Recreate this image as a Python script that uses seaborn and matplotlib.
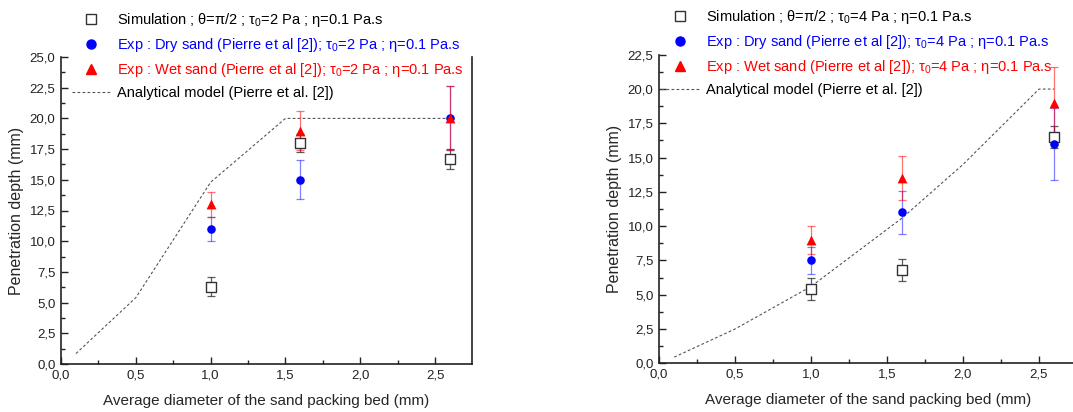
import numpy as np
import matplotlib
matplotlib.use("Agg")
import matplotlib.pyplot as plt
import seaborn as sns
from matplotlib.lines import Line2D
from matplotlib.ticker import FuncFormatter, MultipleLocator

# ---- data ----
x_exp = [1.0, 1.6, 2.6]

# left panel: tau0 = 2 Pa
sim_2 = [6.3, 18.0, 16.7]
sim_2_err = [0.8, 0.7, 0.8]
dry_2 = [11.0, 15.0, 20.0]
dry_2_err = [1.0, 1.6, 2.6]
wet_2 = [13.0, 19.0, 20.0]
wet_2_err = [1.0, 1.6, 2.6]
model_2_x = [0.1, 0.5, 1.0, 1.5, 2.6]
model_2_y = [0.85, 5.4, 14.8, 20.0, 20.0]

# right panel: tau0 = 4 Pa
sim_4 = [5.4, 6.8, 16.5]
sim_4_err = [0.8, 0.8, 0.8]
dry_4 = [7.5, 11.0, 16.0]
dry_4_err = [1.0, 1.6, 2.6]
wet_4 = [9.0, 13.5, 19.0]
wet_4_err = [1.0, 1.6, 2.6]
model_4_x = [0.1, 0.5, 1.0, 1.6, 2.0, 2.5, 2.6]
model_4_y = [0.45, 2.5, 5.6, 10.6, 14.5, 20.0, 20.0]

sns.set_style("ticks")
plt.rcParams["font.family"] = ["Liberation Sans", "DejaVu Sans"]
plt.rcParams["mathtext.fontset"] = "custom"
plt.rcParams["mathtext.rm"] = "Liberation Sans"
plt.rcParams["mathtext.it"] = "Liberation Sans"

W, H = 1073, 412
fig = plt.figure(figsize=(W / 100, H / 100), dpi=100)

SIM_C = "#333333"
DRY_C = "blue"
WET_C = "red"
LINE_C = "#555555"
comma = FuncFormatter(lambda v, p: f"{v:.1f}".replace(".", ","))


def panel(rect, ymax, xmax, sim, sim_err, dry, dry_err, wet, wet_err, mx, my):
    ax = fig.add_axes(rect)
    sns.lineplot(x=mx, y=my, ax=ax, color=LINE_C, lw=0.8,
                 linestyle=(0, (2.5, 2)), legend=False, sort=False)
    ax.errorbar(x_exp, sim, yerr=sim_err, fmt="none", ecolor=SIM_C,
                elinewidth=0.9, capsize=3, capthick=0.9, alpha=0.8)
    sns.scatterplot(x=x_exp, y=sim, ax=ax, marker="s", s=42,
                    facecolor="white", edgecolor=SIM_C, linewidth=1.0, zorder=3)
    ax.errorbar(x_exp, dry, yerr=dry_err, fmt="none", ecolor=DRY_C,
                elinewidth=0.9, capsize=3, capthick=0.9, alpha=0.5)
    sns.scatterplot(x=x_exp, y=dry, ax=ax, marker="o", s=38,
                    color=DRY_C, edgecolor=DRY_C, linewidth=0, zorder=4)
    ax.errorbar(x_exp, wet, yerr=wet_err, fmt="none", ecolor=WET_C,
                elinewidth=0.9, capsize=3, capthick=0.9, alpha=0.55)
    sns.scatterplot(x=x_exp, y=wet, ax=ax, marker="^", s=50,
                    color=WET_C, edgecolor=WET_C, linewidth=0, zorder=5)

    ax.set_xlim(0, xmax)
    ax.set_ylim(0, ymax)
    ax.xaxis.set_major_locator(MultipleLocator(0.5))
    ax.xaxis.set_minor_locator(MultipleLocator(0.25))
    ax.yaxis.set_major_locator(MultipleLocator(2.5))
    ax.yaxis.set_minor_locator(MultipleLocator(1.25))
    ax.xaxis.set_major_formatter(comma)
    ax.yaxis.set_major_formatter(comma)
    ax.tick_params(which="both", direction="in", labelsize=9.5, width=1,
                   colors="#222222", right=False, top=False)
    ax.tick_params(which="major", length=5, pad=4)
    ax.tick_params(which="minor", length=3)
    for s in ax.spines.values():
        s.set_linewidth(1.2)
        s.set_color("#222222")
    ax.spines["top"].set_visible(False)
    ax.set_xlabel("Average diameter of the sand packing bed (mm)", fontsize=11, labelpad=9)
    ax.set_ylabel("Penetration depth (mm)", fontsize=11.5, labelpad=4)
    return ax


ax1 = panel([61 / W, (H - 364) / H, 411 / W, 307 / H], 25, 2.747,
            sim_2, sim_2_err, dry_2, dry_2_err, wet_2, wet_2_err, model_2_x, model_2_y)
ax2 = panel([659 / W, (H - 363.3) / H, 418 / W, 308.5 / H], 22.5, 2.75,
            sim_4, sim_4_err, dry_4, dry_4_err, wet_4, wet_4_err, model_4_x, model_4_y)


def legend(ax, tau, x0, y0):
    handles = [
        Line2D([], [], ls="none", marker="s", ms=6.5, mfc="white", mec=SIM_C, mew=1.0),
        Line2D([], [], ls="none", marker="o", ms=6.5, color=DRY_C),
        Line2D([], [], ls="none", marker="^", ms=7, color=WET_C),
        Line2D([], [], color=LINE_C, lw=0.8, ls=(0, (2.5, 2))),
    ]
    labels = [
        f"Simulation ; θ=π/2 ; τ$_0$={tau} Pa ; η=0.1 Pa.s",
        f"Exp : Dry sand (Pierre et al [2]); τ$_0$={tau} Pa ; η=0.1 Pa.s",
        f"Exp : Wet sand (Pierre et al [2]); τ$_0$={tau} Pa ; η=0.1 Pa.s",
        "Analytical model (Pierre et al. [2])",
    ]
    leg = ax.legend(handles, labels, loc="upper left",
                    bbox_to_anchor=(x0 / W, 1 - y0 / H), bbox_transform=fig.transFigure,
                    frameon=False, fontsize=10.5, handlelength=2.6, handletextpad=0.5,
                    labelspacing=0.48, borderpad=0, borderaxespad=0)
    for t, c in zip(leg.get_texts(), ["black", DRY_C, WET_C, "black"]):
        t.set_color(c)
    return leg


legend(ax1, 2, 72, 11)
legend(ax2, 4, 661, 8)

fig.savefig("out.png", dpi=100)
